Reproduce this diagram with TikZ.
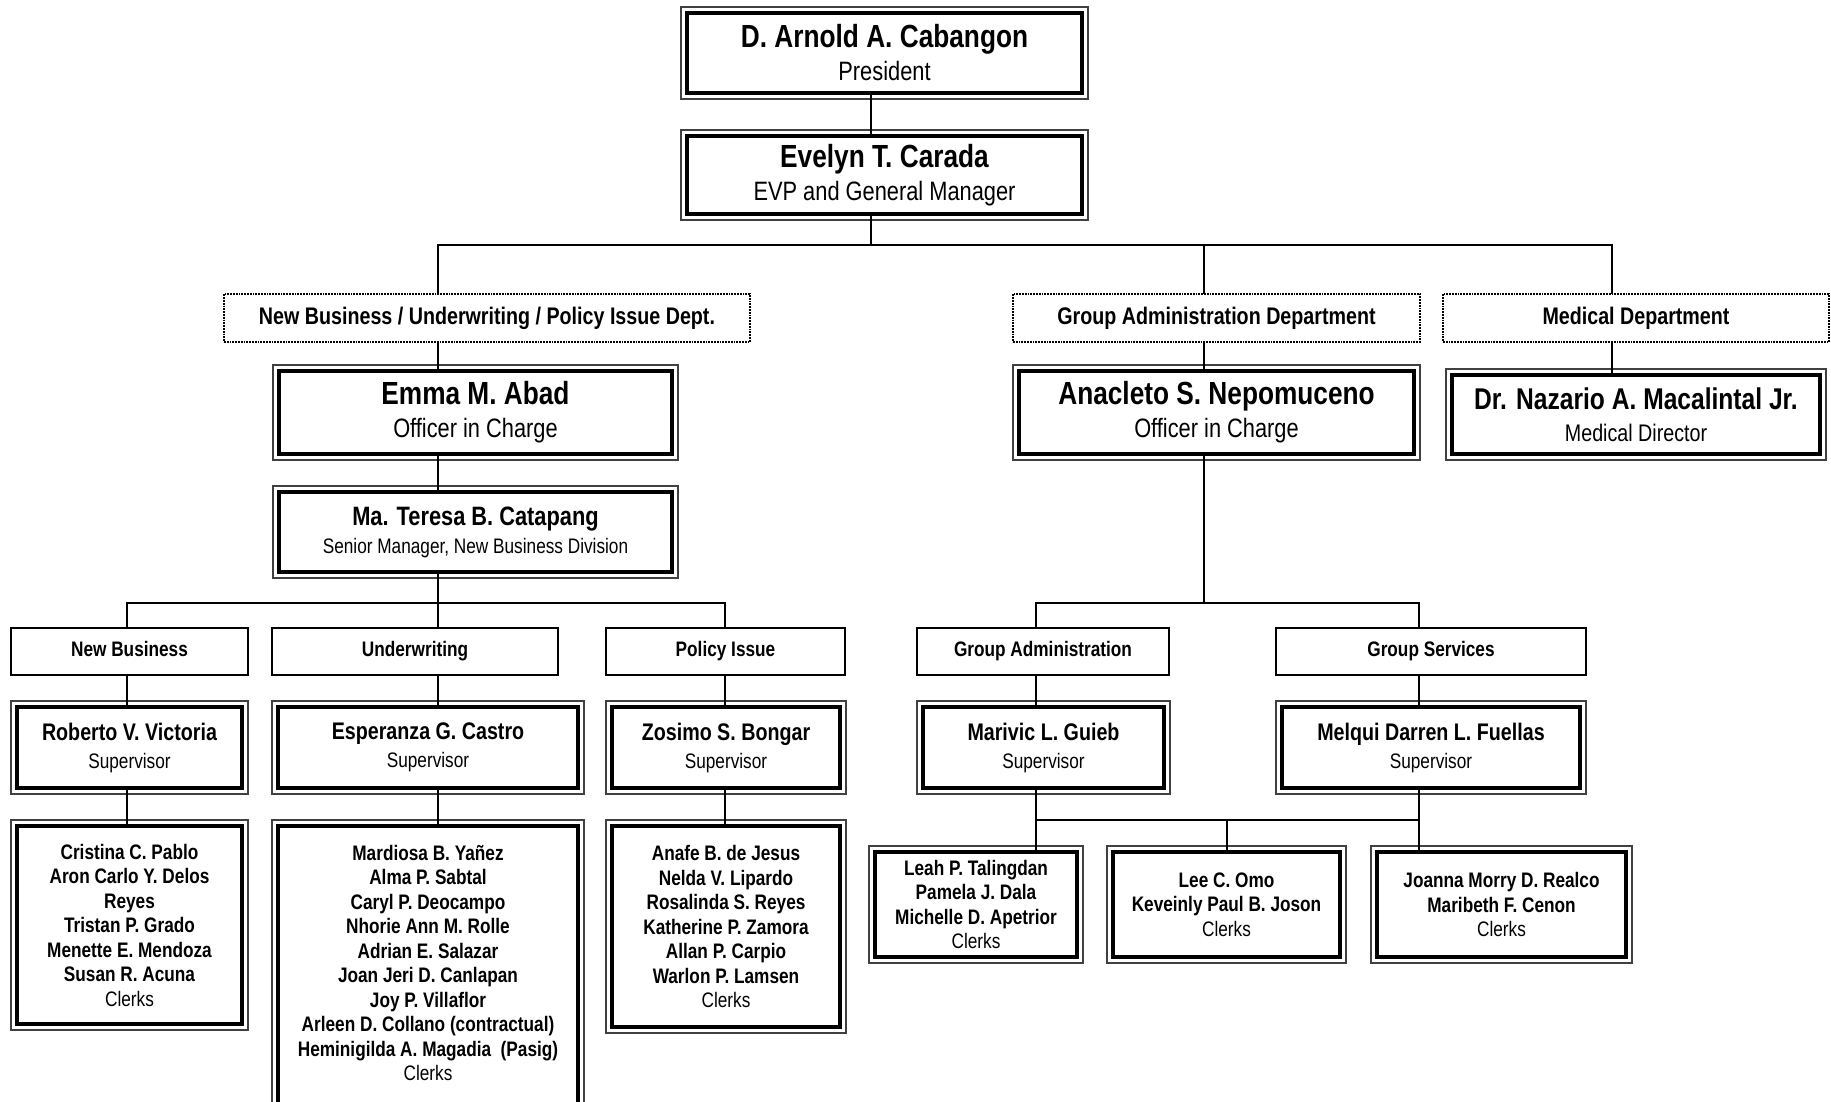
\documentclass[tikz,border=0pt]{standalone}
\usepackage{fontspec}
\setmainfont[FakeStretch=0.82]{Liberation Sans}
\newcommand\fTopName{\fontsize{32}{33}\selectfont\bfseries}
\newcommand\fTopSub{\fontsize{26.6}{33}\selectfont}
\newcommand\fNazName{\fontsize{30}{32}\selectfont\bfseries}
\newcommand\fNazSub{\fontsize{24}{32}\selectfont}
\newcommand\fCatName{\fontsize{26.6}{28}\selectfont\bfseries}
\newcommand\fCatSub{\fontsize{21}{28}\selectfont}
\newcommand\fDept{\fontsize{24}{28}\selectfont\bfseries}
\newcommand\fSect{\fontsize{21}{25}\selectfont\bfseries}
\newcommand\fSupName{\fontsize{24}{28}\selectfont\bfseries}
\newcommand\fSupSub{\fontsize{21}{28}\selectfont}
\newcommand\fClerk{\fontsize{21}{24.5}\selectfont}
\begin{document}
\begin{tikzpicture}[x=1pt,y=-1pt,
  dbox/.style={draw, line width=3.5pt, inner sep=0pt, outer sep=0pt, align=center, fill=white},
  deptbox/.style={draw, line width=1.8pt, densely dotted, inner sep=0pt, outer sep=0pt, align=center, fill=white, minimum height=48pt, font=\fDept, text height=17pt, text depth=5pt},
  sectbox/.style={draw, line width=1.8pt, inner sep=0pt, outer sep=0pt, align=center, fill=white, minimum height=47pt, font=\fSect, text height=15pt, text depth=4.5pt},
  thinframe/.style={line width=1.2pt, black!75},
  conn/.style={line width=2.2pt, line join=miter}]
\fill[white] (0,0) rectangle (1831,1101);
\useasboundingbox (0,0) rectangle (1831,1101);

% top
\node[dbox, minimum width=395pt, minimum height=80pt, font=\fTopSub] (pres) at (884.5,53) {{\fTopName D. Arnold A. Cabangon}\\President};
\node[dbox, minimum width=395pt, minimum height=78pt, font=\fTopSub] (evp) at (884.5,175) {{\fTopName Evelyn T. Carada}\\EVP and General Manager};

% departments
\node[deptbox, minimum width=526pt] (nbd) at (487,318) {New Business / Underwriting / Policy Issue Dept.};
\node[deptbox, minimum width=407pt] (gad) at (1216.5,318) {Group Administration Department};
\node[deptbox, minimum width=386pt] (med) at (1636,318) {Medical Department};

% officers
\node[dbox, minimum width=393pt, minimum height=83pt, font=\fTopSub] (emma) at (475.5,412.5) {{\fTopName Emma M. Abad}\\Officer in Charge};
\node[dbox, minimum width=395pt, minimum height=83pt, font=\fTopSub] (anac) at (1216.5,412.5) {{\fTopName Anacleto S. Nepomuceno}\\Officer in Charge};
\node[dbox, minimum width=368pt, minimum height=79pt, font=\fNazSub] (naz) at (1636,414.5) {{\fNazName Dr. Nazario A. Macalintal Jr.}\\Medical Director};
\node[dbox, minimum width=393pt, minimum height=80pt, font=\fCatSub] (cata) at (475.5,532) {{\fCatName Ma. Teresa B. Catapang}\\Senior Manager, New Business Division};

% sections
\node[sectbox, minimum width=237pt] (snb) at (129.5,651.5) {New Business};
\node[sectbox, minimum width=286pt] (suw) at (415,651.5) {Underwriting};
\node[sectbox, minimum width=239pt] (spi) at (725.5,651.5) {Policy Issue};
\node[sectbox, minimum width=252pt] (sga) at (1043,651.5) {Group Administration};
\node[sectbox, minimum width=310pt] (sgs) at (1431,651.5) {Group Services};

% supervisors
\node[dbox, minimum width=225pt, minimum height=81pt, font=\fSupSub] (rob) at (129.5,747.5) {{\fSupName Roberto V. Victoria}\\Supervisor};
\node[dbox, minimum width=300pt, minimum height=81pt, font=\fSupSub] (esp) at (428,747.5) {{\fSupName Esperanza G. Castro}\\Supervisor};
\node[dbox, minimum width=228pt, minimum height=81pt, font=\fSupSub] (zos) at (726,747.5) {{\fSupName Zosimo S. Bongar}\\Supervisor};
\node[dbox, minimum width=241pt, minimum height=81pt, font=\fSupSub] (mar) at (1043.5,747.5) {{\fSupName Marivic L. Guieb}\\Supervisor};
\node[dbox, minimum width=298pt, minimum height=81pt, font=\fSupSub] (mel) at (1431,747.5) {{\fSupName Melqui Darren L. Fuellas}\\Supervisor};

% clerks
\node[dbox, minimum width=225pt, minimum height=198pt, font=\fClerk\bfseries] (nbc) at (129.5,925) {Cristina C. Pablo\\Aron Carlo Y. Delos\\Reyes\\Tristan P. Grado\\Menette E. Mendoza\\Susan R. Acuna\\{\mdseries Clerks}};
\node[dbox, minimum width=300pt, minimum height=290pt, text depth=16pt, font=\fClerk\bfseries] (uwc) at (428,971) {Mardiosa B. Ya\~nez\\Alma P. Sabtal\\Caryl P. Deocampo\\Nhorie Ann M. Rolle\\Adrian E. Salazar\\Joan Jeri D. Canlapan\\Joy P. Villaflor\\Arleen D. Collano (contractual)\\Heminigilda A. Magadia~ (Pasig)\\{\mdseries Clerks}};
\node[dbox, minimum width=228pt, minimum height=201pt, font=\fClerk\bfseries] (pic) at (726,926.5) {Anafe B. de Jesus\\Nelda V. Lipardo\\Rosalinda S. Reyes\\Katherine P. Zamora\\Allan P. Carpio\\Warlon P. Lamsen\\{\mdseries Clerks}};
\node[dbox, minimum width=202pt, minimum height=105pt, font=\fClerk\bfseries] (lea) at (976,904.5) {Leah P. Talingdan\\Pamela J. Dala\\Michelle D. Apetrior\\{\mdseries Clerks}};
\node[dbox, minimum width=227pt, minimum height=105pt, font=\fClerk\bfseries] (lee) at (1226.5,904.5) {Lee C. Omo\\Keveinly Paul B. Joson\\{\mdseries Clerks}};
\node[dbox, minimum width=249pt, minimum height=105pt, font=\fClerk\bfseries] (joa) at (1501.5,904.5) {Joanna Morry D. Realco\\Maribeth F. Cenon\\{\mdseries Clerks}};

% outer thin frames of the double boxes
\foreach \n in {pres,evp,emma,anac,naz,cata,rob,esp,zos,mar,mel,nbc,uwc,pic,lea,lee,joa}
  \draw[thinframe] ([shift={(-6pt,6pt)}]\n.north west) rectangle ([shift={(6pt,-6pt)}]\n.south east);

% connector coordinates
\coordinate (s1) at (871,245);
\coordinate (b1L) at (438,245);
\coordinate (b1M) at (1204,245);
\coordinate (b1R) at (1612,245);
\coordinate (b2L) at (127,603);
\coordinate (b2M) at (438,603);
\coordinate (b2R) at (725,603);
\coordinate (gL) at (1036,603);
\coordinate (gM) at (1204,603);
\coordinate (gR) at (1419,603);
\coordinate (cL) at (1036,820);
\coordinate (cM) at (1227,820);
\coordinate (cR) at (1419,820);

% connectors
\draw[conn] (pres.south -| s1) -- (evp.north -| s1);
\draw[conn] (evp.south -| s1) -- (s1);
\draw[conn] (nbd.north -| b1L) -- (b1L) -- (b1R) -- (med.north -| b1R);
\draw[conn] (b1M) -- (gad.north -| b1M);
\draw[conn] (nbd.south -| b1L) -- (emma.north -| b1L);
\draw[conn] (emma.south -| b1L) -- (cata.north -| b1L);
\draw[conn] (cata.south -| b2M) -- (suw.north -| b2M);
\draw[conn] (snb.north -| b2L) -- (b2L) -- (b2R) -- (spi.north -| b2R);
\draw[conn] (gad.south -| gM) -- (anac.north -| gM);
\draw[conn] (anac.south -| gM) -- (gM);
\draw[conn] (sga.north -| gL) -- (gL) -- (gR) -- (sgs.north -| gR);
\draw[conn] (med.south -| b1R) -- (naz.north -| b1R);
\draw[conn] (snb.south -| b2L) -- (rob.north -| b2L);
\draw[conn] (rob.south -| b2L) -- (nbc.north -| b2L);
\draw[conn] (suw.south -| b2M) -- (esp.north -| b2M);
\draw[conn] (esp.south -| b2M) -- (uwc.north -| b2M);
\draw[conn] (spi.south -| b2R) -- (zos.north -| b2R);
\draw[conn] (zos.south -| b2R) -- (pic.north -| b2R);
\draw[conn] (sga.south -| gL) -- (mar.north -| gL);
\draw[conn] (sgs.south -| gR) -- (mel.north -| gR);
\draw[conn] (mar.south -| cL) -- (lea.north -| cL);
\draw[conn] (mel.south -| cR) -- (joa.north -| cR);
\draw[conn] (cL) -- (cR);
\draw[conn] (cM) -- (lee.north -| cM);
\end{tikzpicture}
\end{document}
